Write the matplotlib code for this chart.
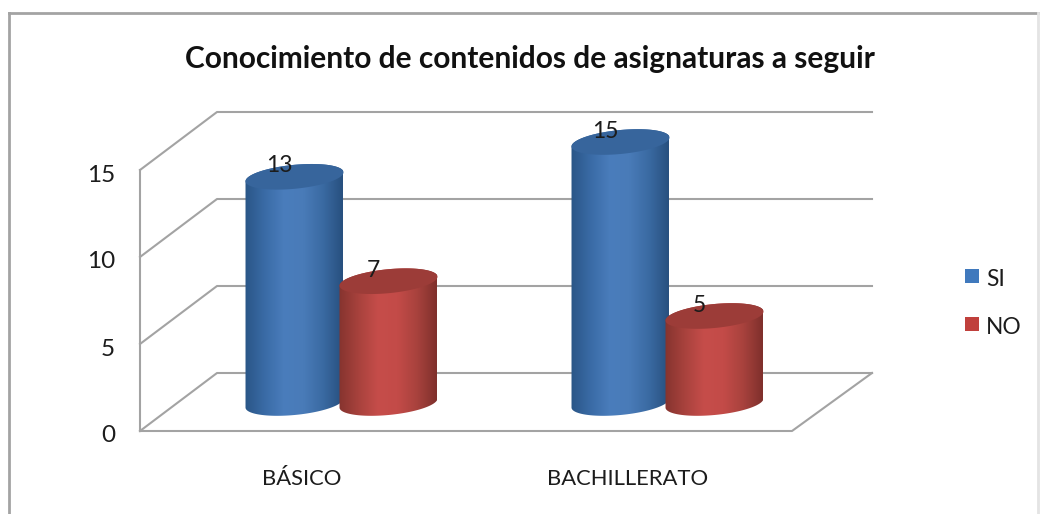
#!/usr/bin/env python3
"""3D-look cylinder chart: knowledge of course contents, by school level."""

import numpy as np
import matplotlib
matplotlib.use("Agg")
import matplotlib.pyplot as plt
from matplotlib.colors import LinearSegmentedColormap
from matplotlib.lines import Line2D
from matplotlib.patches import Polygon, Rectangle

W, H = 1043, 514

TITLE = "Conocimiento de contenidos de asignaturas a seguir"
categories = ["BÁSICO", "BACHILLERATO"]
series_names = ["SI", "NO"]
si_values = [13, 15]
no_values = [7, 5]
y_ticks = [0, 5, 10, 15]

GREY = "#a3a3a3"
TEXT = "#1c1c1c"
BLUE = ["#2a5687", "#3a6ba6", "#4a7dbc", "#497bb8", "#3a6aa2", "#28507f"]
RED = ["#86342f", "#a8423d", "#c64d4a", "#c34b48", "#a8423d", "#7f302c"]
TOP = {"SI": "#37659c", "NO": "#9c3c38"}
SWATCH = {"SI": "#4079bd", "NO": "#c0403c"}

plt.rcParams["font.family"] = ["Lato", "DejaVu Sans"]

fig = plt.figure(figsize=(W / 100, H / 100), dpi=100)
ax = fig.add_axes([0, 0, 1, 1])

# one category = 326 px, one value unit = 17.4 px, value 0 sits at pixel y=403
PX_X, PX_Y = 326.0, 17.4
X0, Y0 = 341.5, 403.0
ax.axis("off")


def ux(px):
    return (px - X0) / PX_X


def uy(px):
    return (Y0 - px) / PX_Y


# chart frame
for xs, ys, col in [([9, 9], [H, 13], GREY), ([9, 1038], [13, 13], GREY),
                    ([1038, 1038], [13, H], "#e4e4e4")]:
    ax.add_line(Line2D([ux(x) for x in xs], [uy(y) for y in ys], color=col, lw=2))

# walls and floor: value lines run along the back wall and the left side wall
FRONT_L, BACK_L, BACK_R, FRONT_R = 140, 217, 872, 792
DY_FRONT, DY_BACK = uy(431), uy(373)
for v in y_ticks:
    ax.plot([ux(FRONT_L), ux(BACK_L), ux(BACK_R)],
            [v + DY_FRONT, v + DY_BACK, v + DY_BACK], color=GREY, lw=1.5, zorder=1)
ax.plot([ux(FRONT_L), ux(FRONT_L)], [DY_FRONT, y_ticks[-1] + DY_FRONT],
        color=GREY, lw=1.5, zorder=1)
ax.plot([ux(FRONT_L), ux(FRONT_R), ux(BACK_R)],
        [DY_FRONT, DY_FRONT, DY_BACK], color=GREY, lw=1.5, zorder=1)


def cylinder(cx, value, stops, top_col, z):
    a = 49 / PX_X      # half width
    b = 12 / PX_Y      # ellipse half height
    tilt = 4.5 / PX_Y  # ellipse leans up to the right
    t = np.linspace(0, 2 * np.pi, 120)
    ex, ey = a * np.cos(t), b * np.sin(t) + tilt * np.cos(t)
    low = t >= np.pi
    # lower half of the base, then the upper half of the top
    body = np.r_[
        np.c_[cx + ex[low], ey[low]],
        np.c_[cx + ex[~low], value + ey[~low]],
    ]
    clip = Polygon(body, closed=True, transform=ax.transData, fc="none", ec="none")
    ax.add_patch(clip)
    cmap = LinearSegmentedColormap.from_list("shade", stops)
    img = ax.imshow(np.linspace(0, 1, 200)[None, :], cmap=cmap, aspect="auto",
                    extent=[cx - a, cx + a, -2, value + 2], zorder=z)
    img.set_clip_path(clip)
    ax.add_patch(Polygon(np.c_[cx + ex, value + ey], closed=True, fc=top_col,
                         ec="none", zorder=z + 0.1))


groups = [0, 1]
OFFSET = 47 / PX_X
for g, si, no in zip(groups, si_values, no_values):
    cylinder(g - OFFSET, si, BLUE, TOP["SI"], 3)
    cylinder(g + OFFSET, no, RED, TOP["NO"], 4)
    for cx, val in [(g - OFFSET, si), (g + OFFSET, no)]:
        ax.text(cx - 15 / PX_X, val + 11 / PX_Y, str(val), fontsize=16.5,
                color=TEXT, ha="center", va="center", zorder=6)

ax.set_xlim(-X0 / PX_X, (W - X0) / PX_X)
ax.set_ylim((Y0 - H) / PX_Y, Y0 / PX_Y)

# value axis labels
for v in y_ticks:
    ax.text(ux(115), v + DY_FRONT - 5 / PX_Y, str(v), fontsize=17.5, color=TEXT,
            ha="right", va="center")

# category labels
for g, name in zip(groups, categories):
    ax.text(g - 40 / PX_X, uy(479), name, fontsize=15.8, color=TEXT,
            ha="center", va="center")

ax.text(ux(530), uy(59), TITLE, fontsize=21.5, fontweight="bold", color="#111111",
        ha="center", va="center")

# legend
for name, sw_y, txt_y in zip(series_names, [275.5, 324], [279, 328]):
    ax.add_patch(Rectangle((ux(965), uy(sw_y + 7)), 14 / PX_X, 14 / PX_Y,
                           fc=SWATCH[name], ec="none"))
    ax.text(ux(986), uy(txt_y), name, fontsize=16.4, color=TEXT, ha="left", va="center")

fig.savefig("out.png", dpi=100)
